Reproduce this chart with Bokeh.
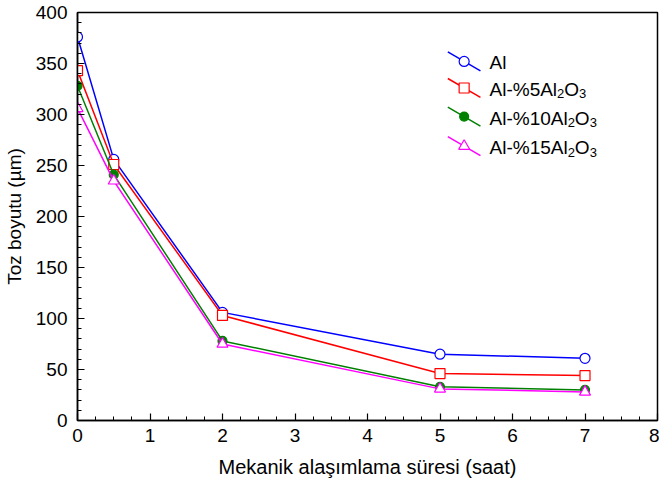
from bokeh.plotting import figure
from bokeh.models import Range1d, SingleIntervalTicker, ColumnDataSource
from bokeh.embed import file_html
from bokeh.resources import INLINE

# Milling time (hours) and powder particle size (µm) for each composition
time_h = [0, 0.5, 2, 5, 7]
size_al = [376, 256, 106, 65, 61]
size_al5 = [343, 251, 103, 46, 44]
size_al10 = [328, 241, 78, 33, 30]
size_al15 = [306, 235, 75, 31, 28]

# Legend labels split into (text, is_subscript) pieces
label_al = [("Al", False)]
label_al5 = [("Al-%5Al", False), ("2", True), ("O", False), ("3", True)]
label_al10 = [("Al-%10Al", False), ("2", True), ("O", False), ("3", True)]
label_al15 = [("Al-%15Al", False), ("2", True), ("O", False), ("3", True)]

x_title = "Mekanik alaşımlama süresi (saat)"
y_title = "Toz boyutu (µm)"

FONT = "Liberation Sans"
MAIN_PX = 19
SUB_PX = 13

# Advance widths (per 1000 em) of the Arial-metric face, for placing subscripts
ADV = {"A": 667, "l": 222, "-": 333, "%": 889, "0": 556, "1": 556, "5": 556,
       "2": 556, "3": 556, "O": 778}


def text_width(s, px):
    return sum(ADV[c] for c in s) * px / 1000.0


p = figure(width=659, height=488,
           x_range=Range1d(0, 8), y_range=Range1d(0, 400),
           output_backend="svg", toolbar_location=None,
           min_border_left=77, min_border_right=2,
           min_border_top=12, min_border_bottom=68)

p.background_fill_color = "white"
p.border_fill_color = "white"
p.outline_line_color = "black"
p.outline_line_width = 1.5
p.xgrid.visible = False
p.ygrid.visible = False

p.xaxis.ticker = SingleIntervalTicker(interval=1, num_minor_ticks=4)
p.yaxis.ticker = SingleIntervalTicker(interval=50, num_minor_ticks=5)

for ax in (p.xaxis, p.yaxis):
    ax.axis_line_color = "black"
    ax.axis_line_width = 1.5
    ax.major_tick_line_color = "black"
    ax.minor_tick_line_color = "black"
    ax.major_tick_line_width = 1.2
    ax.minor_tick_line_width = 1.0
    ax.major_tick_in = 7
    ax.major_tick_out = 0
    ax.minor_tick_in = 4
    ax.minor_tick_out = 0
    ax.major_label_text_font = FONT
    ax.major_label_text_font_size = f"{MAIN_PX}px"
    ax.major_label_text_color = "black"
    ax.axis_label_text_font = FONT
    ax.axis_label_text_font_style = "normal"
    ax.axis_label_text_color = "black"

p.xaxis.axis_label = x_title
p.xaxis.axis_label_text_font_size = "20px"
p.xaxis.major_label_standoff = 8
p.xaxis.axis_label_standoff = 11

p.yaxis.axis_label = y_title
p.yaxis.axis_label_text_font_size = f"{MAIN_PX}px"
p.yaxis.major_label_standoff = 10
p.yaxis.axis_label_standoff = 8

series = [
    (size_al, "#0000ff", "circle", "white", 10, label_al),
    (size_al5, "#ff0000", "square", "white", 10, label_al5),
    (size_al10, "#008000", "circle", "#008000", 9, label_al10),
    (size_al15, "#ff00ff", "triangle", "white", 11, label_al15),
]

# Legend placement (data units): slanted key line, marker in the middle, text to the right
legend_y = [352, 326, 298, 269]
key_xc = 5.333
key_dx = 0.225
key_dy = 9.3
text_x = 5.683

for (vals, color, marker, fill, msize, label), ly in zip(series, legend_y):
    src = ColumnDataSource(dict(x=time_h, y=vals))
    p.line("x", "y", source=src, line_color=color, line_width=1.5)
    p.scatter("x", "y", source=src, marker=marker, size=msize,
              line_color=color, fill_color=fill, line_width=1.2)

    # legend key
    p.segment(x0=[key_xc - key_dx], y0=[ly + key_dy], x1=[key_xc + key_dx], y1=[ly - key_dy],
              line_color=color, line_width=1.5)
    p.scatter(x=[key_xc], y=[ly], marker=marker, size=msize,
              line_color=color, fill_color=fill, line_width=1.2)

    # legend text, built piece by piece so subscripts sit lower and smaller
    xs, ys, texts, offs_x, offs_y, sizes = [], [], [], [], [], []
    cursor = 0.0
    for piece, is_sub in label:
        px = SUB_PX if is_sub else MAIN_PX
        xs.append(text_x)
        ys.append(ly)
        texts.append(piece)
        offs_x.append(cursor)
        offs_y.append(6.0 if is_sub else 1.5)
        sizes.append(f"{px}px")
        cursor += text_width(piece, px)
    tsrc = ColumnDataSource(dict(x=xs, y=ys, text=texts, xo=offs_x, yo=offs_y, fs=sizes))
    p.text("x", "y", text="text", source=tsrc, x_offset="xo", y_offset="yo",
           text_font_size="fs", text_font={"value": FONT},
           text_baseline="middle", text_align="left", text_color="black")

open("out.html", "w").write(file_html(p, INLINE))
